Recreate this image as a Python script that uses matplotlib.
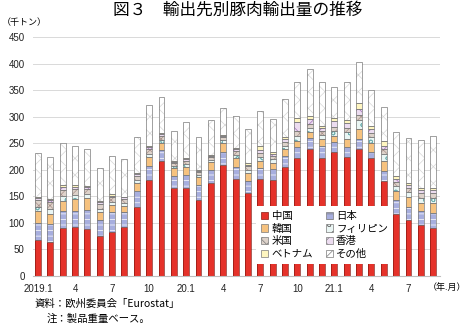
import matplotlib
matplotlib.use("Agg")
import matplotlib.pyplot as plt
import numpy as np

plt.rcParams['font.family'] = ['Liberation Sans', 'Noto Sans CJK JP', 'DejaVu Sans']
plt.rcParams['hatch.linewidth'] = 0.5

# monthly exports by destination, thousand tonnes (2019.1 - 2021.9)
tick_labels = ['2019.1', '4', '7', '10', '20.1', '4', '7', '10', '21.1', '4', '7']

china = [67, 64, 89, 91, 88, 74, 82, 92, 130, 181, 216, 166, 166, 143, 175, 208, 183,
         156, 183, 181, 205, 222, 238, 222, 234, 224, 238, 221, 179, 116, 104, 96, 89]
japan = [32, 33, 32, 31, 36, 30, 38, 28, 29, 26, 20, 21, 24, 28, 25, 25, 21,
         22, 20, 20, 20, 20, 22, 23, 18, 19, 20, 13, 19, 26, 26, 25, 29]
korea = [23, 19, 20, 22, 22, 16, 13, 12, 15, 17, 14, 16, 15, 14, 14, 17, 18,
         16, 14, 12, 13, 11, 10, 13, 12, 15, 19, 16, 19, 18, 18, 16, 19]
philippines = [8, 9, 9, 8, 7, 6, 6, 5, 6, 6, 6, 4, 5, 5, 4, 5, 6,
               5, 7, 6, 7, 10, 8, 7, 9, 12, 16, 11, 12, 9, 9, 9, 9]
usa = [12, 13, 12, 11, 10, 9, 9, 8, 8, 8, 7, 6, 6, 6, 6, 6, 7,
       7, 8, 7, 7, 9, 7, 7, 8, 8, 9, 8, 9, 8, 9, 10, 10]
hongkong = [5, 5, 5, 4, 4, 3, 3, 3, 3, 4, 4, 2, 3, 2, 2, 3, 3,
            3, 4, 3, 5, 18, 10, 6, 10, 9, 12, 7, 7, 5, 5, 5, 5]
vietnam = [2, 2, 3, 3, 2, 2, 2, 1, 2, 2, 2, 2, 2, 2, 2, 2, 3,
           3, 8, 5, 4, 8, 6, 5, 7, 7, 11, 7, 8, 5, 4, 4, 4]
others = [82, 79, 80, 75, 70, 63, 72, 70, 68, 78, 68, 55, 68, 62, 65, 51, 60,
          65, 67, 62, 73, 68, 88, 83, 58, 72, 78, 67, 65, 83, 85, 90, 98]

series = [
    ('中国', china, '#e5322a', None, '#a01c14'),
    ('日本', japan, '#a7aede', '---', '#ffffff'),
    ('韓国', korea, '#f6c27f', None, '#d08a3a'),
    ('フィリピン', philippines, '#eaf6f4', 'oo', '#6fb0b0'),
    ('米国', usa, '#ddd2ca', 'xxx', '#a8908a'),
    ('香港', hongkong, '#ecdcf0', 'xx', '#a070b8'),
    ('ベトナム', vietnam, '#fff6c0', None, '#c8b860'),
    ('その他', others, '#ffffff', 'xx', '#d6d6d6'),
]

fig = plt.figure(figsize=(4.67, 3.28), dpi=100)
ax = fig.add_axes([0.0707, 0.160, 0.8715, 0.727])

x = np.arange(len(china))
width = 0.48
bottom = np.zeros(len(china))
handles = {}
for name, vals, face, hatch, hcol in series:
    vals = np.array(vals, dtype=float)
    # fill + pattern
    ax.bar(x, vals, width, bottom=bottom, color=face, hatch=hatch,
           edgecolor=hcol, linewidth=0, zorder=2)
    # outline
    edge = '#8a1a12' if name == '中国' else '#7a7a7a'
    ax.bar(x, vals, width, bottom=bottom, fill=False, edgecolor=edge,
           linewidth=0.5, zorder=3)
    handles[name] = matplotlib.patches.Rectangle((0, 0), 1, 1, facecolor=face,
                                                 hatch=hatch, edgecolor=edge,
                                                 linewidth=0.5)
    bottom += vals

ax.set_ylim(0, 450)
ax.set_xlim(-0.4, 32.55)
ax.set_yticks(np.arange(0, 451, 50))
ax.yaxis.grid(True, color='#d9d9d9', linewidth=0.7, zorder=0)
ax.set_axisbelow(True)
ax.set_xticks(np.arange(0, len(china), 3))
ax.set_xticklabels(tick_labels)
ax.tick_params(axis='both', length=0, labelsize=7, colors='#222222')
ax.tick_params(axis='x', pad=6)
ax.tick_params(axis='y', pad=6)
for s in ['top', 'right', 'left']:
    ax.spines[s].set_visible(False)
ax.spines['bottom'].set_color('#bfbfbf')
ax.spines['bottom'].set_linewidth(0.8)

order = ['中国', '韓国', '米国', 'ベトナム', '日本', 'フィリピン', '香港', 'その他']
leg = ax.legend([handles[k] for k in order], order, ncol=2, loc='lower left',
                bbox_to_anchor=(0.535, 0.025), frameon=True,
                fancybox=False, framealpha=1, edgecolor='none', facecolor='white',
                handlelength=0.7, handleheight=0.7, handletextpad=0.3,
                columnspacing=1.2, labelspacing=0.25, borderpad=0.5,
                prop={'family': ['Noto Sans CJK JP'], 'size': 7.5})
leg.set_zorder(5)

fig.text(0.508, 0.968, '図３　輸出先別豚肉輸出量の推移', ha='center', va='center',
         fontsize=12, family=['Noto Sans CJK JP'])
fig.text(0.004, 0.932, '（千トン）', ha='left', va='center', fontsize=6.5,
         family=['Noto Sans CJK JP'])
fig.text(0.999, 0.125, '（年.月）', ha='right', va='center', fontsize=6.5,
         family=['Noto Sans CJK JP'])
fig.text(0.075, 0.075, '資料：欧州委員会「Eurostat」', ha='left', va='center',
         fontsize=7.5, family=['Noto Sans CJK JP', 'Liberation Sans'])
fig.text(0.099, 0.028, '注：製品重量ベース。', ha='left', va='center',
         fontsize=7.5, family=['Noto Sans CJK JP'])

fig.savefig('out.png', dpi=100)
